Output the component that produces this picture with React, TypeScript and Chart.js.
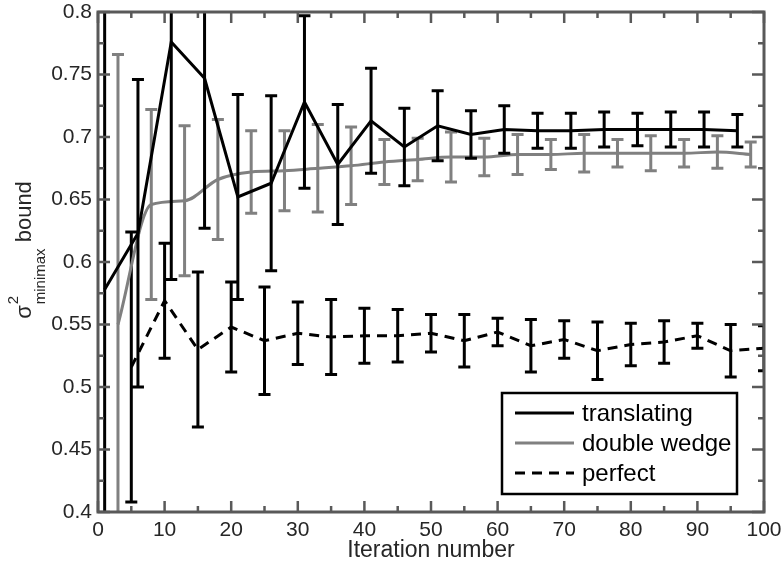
import React, { useEffect, useRef } from 'react';
import { Chart, registerables } from 'chart.js';
Chart.register(...registerables);

// ---- data ----
const xTranslating = [1, 6, 11, 16, 21, 26, 31, 36, 41, 46, 51, 56, 61, 66, 71, 76, 81, 86, 91, 96];
const translating = [0.578, 0.623, 0.776, 0.747, 0.652, 0.663, 0.728, 0.678, 0.713, 0.692, 0.709, 0.702, 0.706, 0.705, 0.705, 0.706, 0.706, 0.706, 0.706, 0.705];
const translatingErr = [0.3, 0.123, 0.19, 0.12, 0.082, 0.07, 0.069, 0.048, 0.042, 0.031, 0.028, 0.019, 0.019, 0.014, 0.014, 0.014, 0.013, 0.014, 0.014, 0.013];

const xWedge = [3, 8, 13, 18, 23, 28, 33, 38, 43, 48, 53, 58, 63, 68, 73, 78, 83, 88, 93, 98];
const doubleWedge = [0.55, 0.646, 0.649, 0.666, 0.672, 0.673, 0.675, 0.677, 0.68, 0.682, 0.684, 0.684, 0.686, 0.686, 0.687, 0.687, 0.687, 0.687, 0.688, 0.686];
const doubleWedgeErr = [0.216, 0.076, 0.06, 0.048, 0.033, 0.032, 0.035, 0.031, 0.018, 0.017, 0.02, 0.015, 0.016, 0.012, 0.015, 0.011, 0.014, 0.011, 0.013, 0.01];

const xPerfect = [5, 10, 15, 20, 25, 30, 35, 40, 45, 50, 55, 60, 65, 70, 75, 80, 85, 90, 95, 100];
const perfect = [0.516, 0.569, 0.53, 0.548, 0.537, 0.543, 0.54, 0.541, 0.541, 0.543, 0.537, 0.544, 0.533, 0.538, 0.529, 0.534, 0.536, 0.541, 0.529, 0.531];
const perfectErr = [0.108, 0.046, 0.062, 0.036, 0.043, 0.025, 0.03, 0.022, 0.021, 0.015, 0.021, 0.011, 0.021, 0.015, 0.023, 0.017, 0.017, 0.01, 0.021, 0.018];

const seriesNames = ['translating', 'double wedge', 'perfect'];

const xTicks = [0, 10, 20, 30, 40, 50, 60, 70, 80, 90, 100];
const xTickLabels = ['0', '10', '20', '30', '40', '50', '60', '70', '80', '90', '100'];
const yTicks = [0.4, 0.45, 0.5, 0.55, 0.6, 0.65, 0.7, 0.75, 0.8];
const yTickLabels = ['0.4', '0.45', '0.5', '0.55', '0.6', '0.65', '0.7', '0.75', '0.8'];
const xMinorTicks = [5, 15, 25, 35, 45, 55, 65, 75, 85, 95];
const yMinorTicks = [0.425, 0.475, 0.525, 0.575, 0.625, 0.675, 0.725, 0.775];

const xTitle = 'Iteration number';

const FONT = '"Liberation Sans", Arial, Helvetica, sans-serif';
const BLACK = '#000000';
const GRAY = '#808080';
const AXIS = '#595959';
const TEXT = '#262626';

export default function App() {
  const ref = useRef<HTMLCanvasElement>(null);

  useEffect(() => {
    const canvas = ref.current;
    if (!canvas) return;
    const errs = [translatingErr, doubleWedgeErr, perfectErr];

    const errorPlugin = {
      id: 'errbars',
      afterDatasetDraw(chart: any, args: any) {
        const i = args.index;
        const e = errs[i];
        const ds = chart.data.datasets[i];
        const ctx = chart.ctx;
        const ca = chart.chartArea;
        const ys = chart.scales.y;
        ctx.save();
        ctx.beginPath();
        ctx.rect(ca.left, ca.top, ca.right - ca.left, ca.bottom - ca.top);
        ctx.clip();
        ctx.strokeStyle = ds.borderColor;
        ctx.lineWidth = 3;
        ctx.setLineDash([]);
        ctx.lineCap = 'butt';
        args.meta.data.forEach((pt: any, j: number) => {
          const v = ds.data[j].y;
          const yt = ys.getPixelForValue(v + e[j]);
          const yb = ys.getPixelForValue(v - e[j]);
          ctx.beginPath();
          ctx.moveTo(pt.x, yt);
          ctx.lineTo(pt.x, yb);
          ctx.moveTo(pt.x - 6, yt);
          ctx.lineTo(pt.x + 6, yt);
          ctx.moveTo(pt.x - 6, yb);
          ctx.lineTo(pt.x + 6, yb);
          ctx.stroke();
        });
        ctx.restore();
      },
    };

    const decorPlugin = {
      id: 'decor',
      afterDraw(chart: any) {
        const ctx = chart.ctx;
        const ca = chart.chartArea;
        const xs = chart.scales.x;
        const ys = chart.scales.y;
        ctx.save();
        // frame
        ctx.strokeStyle = AXIS;
        ctx.lineWidth = 3;
        ctx.setLineDash([]);
        ctx.strokeRect(ca.left, ca.top, ca.right - ca.left, ca.bottom - ca.top);
        // ticks
        ctx.lineWidth = 2.5;
        const drawX = (vals: number[], len: number) => {
          vals.forEach((v) => {
            const px = xs.getPixelForValue(v);
            ctx.beginPath();
            ctx.moveTo(px, ca.bottom);
            ctx.lineTo(px, ca.bottom - len);
            ctx.moveTo(px, ca.top);
            ctx.lineTo(px, ca.top + len);
            ctx.stroke();
          });
        };
        const drawY = (vals: number[], len: number) => {
          vals.forEach((v) => {
            const py = ys.getPixelForValue(v);
            ctx.beginPath();
            ctx.moveTo(ca.left, py);
            ctx.lineTo(ca.left + len, py);
            ctx.moveTo(ca.right, py);
            ctx.lineTo(ca.right - len, py);
            ctx.stroke();
          });
        };
        drawX(xTicks, 11);
        drawX(xMinorTicks, 6);
        drawY(yTicks, 12);
        drawY(yMinorTicks, 6);

        // legend
        const lx = 502, ly = 393, lw = 235, lh = 101;
        ctx.fillStyle = '#ffffff';
        ctx.fillRect(lx, ly, lw, lh);
        ctx.strokeStyle = '#000000';
        ctx.lineWidth = 2.5;
        ctx.strokeRect(lx, ly, lw, lh);
        const colors = [BLACK, GRAY, BLACK];
        const dashes = [[], [], [10, 7]];
        ctx.font = `24px ${FONT}`;
        ctx.textBaseline = 'middle';
        ctx.textAlign = 'left';
        seriesNames.forEach((name, k) => {
          const yy = 413 + k * 30;
          ctx.strokeStyle = colors[k];
          ctx.lineWidth = 3;
          ctx.setLineDash(dashes[k]);
          ctx.beginPath();
          ctx.moveTo(515, yy);
          ctx.lineTo(574, yy);
          ctx.stroke();
          ctx.setLineDash([]);
          ctx.fillStyle = '#000000';
          ctx.fillText(name, 582, yy + 1);
        });

        // x title
        ctx.fillStyle = TEXT;
        ctx.font = `23px ${FONT}`;
        ctx.textAlign = 'center';
        ctx.textBaseline = 'alphabetic';
        ctx.fillText(xTitle, (ca.left + ca.right) / 2, 557);

        // y title: sigma^2_minimax bound
        ctx.translate(31, 250);
        ctx.rotate(-Math.PI / 2);
        ctx.textAlign = 'left';
        const bigF = `22px ${FONT}`;
        const smallF = `15px ${FONT}`;
        ctx.font = bigF;
        const wSig = ctx.measureText('σ').width;
        const wBound = ctx.measureText(' bound').width;
        ctx.font = smallF;
        const wMin = ctx.measureText('minimax').width;
        const w2 = ctx.measureText('2').width;
        const total = wSig + 1 + Math.max(wMin, w2) + wBound;
        let x0 = -total / 2;
        ctx.font = bigF;
        ctx.fillText('σ', x0, 0);
        x0 += wSig + 1;
        ctx.font = smallF;
        ctx.fillText('2', x0, -13);
        ctx.fillText('minimax', x0, 14);
        x0 += Math.max(wMin, w2);
        ctx.font = bigF;
        ctx.fillText(' bound', x0, 0);
        ctx.restore();
      },
    };

    const chart = new Chart(canvas, {
      type: 'line',
      data: {
        datasets: [
          {
            label: seriesNames[0],
            data: xTranslating.map((x, i) => ({ x, y: translating[i] })),
            borderColor: BLACK,
            borderWidth: 3,
            pointRadius: 0,
            tension: 0,
            fill: false,
          },
          {
            label: seriesNames[1],
            data: xWedge.map((x, i) => ({ x, y: doubleWedge[i] })),
            borderColor: GRAY,
            borderWidth: 3,
            pointRadius: 0,
            cubicInterpolationMode: 'monotone',
            fill: false,
          },
          {
            label: seriesNames[2],
            data: xPerfect.map((x, i) => ({ x, y: perfect[i] })),
            borderColor: BLACK,
            borderWidth: 3,
            borderDash: [10, 7],
            pointRadius: 0,
            tension: 0,
            fill: false,
          },
        ],
      },
      options: {
        responsive: false,
        animation: false,
        layout: { padding: { top: 12, right: 19, left: 0, bottom: 0 } },
        plugins: { legend: { display: false }, tooltip: { enabled: false } },
        events: [],
        scales: {
          x: {
            type: 'linear',
            min: 0,
            max: 100,
            afterBuildTicks: (s: any) => {
              s.ticks = xTicks.map((v) => ({ value: v }));
            },
            afterFit: (s: any) => {
              s.height = 53;
              s.paddingLeft = 0;
              s.paddingRight = 0;
            },
            ticks: {
              autoSkip: false,
              maxRotation: 0,
              padding: 6,
              color: TEXT,
              font: { family: FONT, size: 21 },
              callback: (_v: any, i: number) => xTickLabels[i],
            },
            grid: { display: false, drawTicks: false },
            border: { display: false },
          },
          y: {
            type: 'linear',
            min: 0.4,
            max: 0.8,
            afterBuildTicks: (s: any) => {
              s.ticks = yTicks.map((v) => ({ value: v }));
            },
            afterFit: (s: any) => {
              s.width = 98;
              s.paddingTop = 0;
              s.paddingBottom = 0;
            },
            ticks: {
              autoSkip: false,
              padding: 6,
              color: TEXT,
              font: { family: FONT, size: 21 },
              callback: (_v: any, i: number) => yTickLabels[i],
            },
            grid: { display: false, drawTicks: false },
            border: { display: false },
          },
        },
      },
      plugins: [errorPlugin, decorPlugin],
    } as any);

    return () => chart.destroy();
  }, []);

  return (
    <div style={{ position: 'fixed', left: 0, top: 0, width: 783, height: 565, background: '#fff' }}>
      <canvas ref={ref} width={783} height={565} style={{ display: 'block', width: 783, height: 565 }} />
    </div>
  );
}
